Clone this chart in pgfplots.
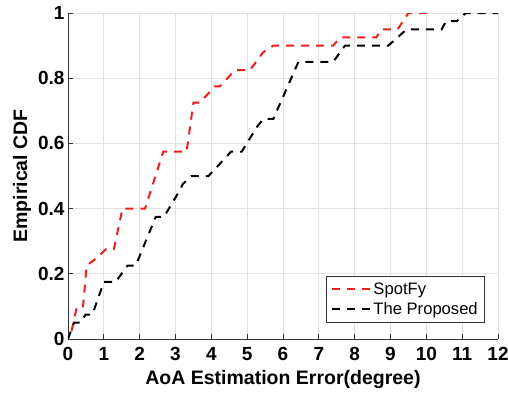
\documentclass[border=0pt]{standalone}
\usepackage{fontspec}
\setmainfont{Liberation Sans}
\usepackage{pgfplots}
\pgfplotsset{compat=1.18}
\definecolor{myred}{RGB}{242,30,30}
\definecolor{mygrid}{RGB}{225,225,225}
\definecolor{axcol}{RGB}{50,50,50}
\begin{document}
\begin{tikzpicture}
\begin{axis}[
  name=ax,
  scale only axis,
  width=430pt, height=326pt,
  xmin=0, xmax=12, ymin=0, ymax=1,
  xtick={0,1,...,12},
  xticklabels={0,1,2,3,4,5,6,7,8,9,10,11,12},
  ytick={0,0.2,0.4,0.6,0.8,1},
  yticklabels={0,0.2,0.4,0.6,0.8,1},
  axis x line*=bottom, axis y line*=left,
  axis line style={axcol, line width=0.9pt, -},
  tick style={axcol, line width=0.9pt},
  tick align=inside,
  major tick length=5pt,
  grid=major,
  major grid style={mygrid, line width=0.9pt},
  ticklabel style={font=\fontsize{19}{21}\selectfont\bfseries, text=black},
  xticklabel style={yshift=-5pt},
  xlabel={AoA Estimation Error(degree)},
  ylabel={Empirical CDF},
  label style={font=\fontsize{19.5}{22}\selectfont\bfseries},
  xlabel style={yshift=-2pt},
  legend style={at={(0.97,0.049)}, anchor=south east, draw=axcol, line width=0.7pt,
    font=\fontsize{16.6}{18}\selectfont, inner xsep=5pt, inner ysep=4.5pt, row sep=3pt},
  legend cell align=left,
  legend image code/.code={\draw[#1] (0pt,0pt) -- (38pt,0pt);},
]
\addplot[myred, line width=2pt, dash pattern=on 8pt off 7pt] coordinates {
(0.1,0.025) (0.25,0.1) (0.42,0.1) (0.52,0.225) (0.82,0.25) (1.05,0.275) (1.28,0.275)
(1.52,0.4) (2.15,0.4) (2.66,0.575) (3.31,0.575) (3.5,0.725) (3.68,0.725)
(4.1,0.775) (4.24,0.775) (4.66,0.825) (5.08,0.825) (5.45,0.88) (5.73,0.9)
(7.4,0.9) (7.6,0.925) (8.6,0.925) (8.75,0.95) (9.2,0.95) (9.5,1) (10,1)
};
\addlegendentry{SpotFy}
\addplot[black, line width=2pt, dash pattern=on 8pt off 7pt] coordinates {
(0,0) (0.17,0.05) (0.35,0.05) (0.49,0.075) (0.68,0.075) (1.0,0.175) (1.33,0.175)
(1.66,0.225) (1.89,0.225) (2.45,0.375) (2.68,0.375) (3.14,0.46) (3.2,0.475)
(3.45,0.5) (3.92,0.5) (4.43,0.56) (4.55,0.575) (4.85,0.575) (5.27,0.65)
(5.45,0.675) (5.73,0.675) (6.33,0.825) (6.43,0.85) (7.4,0.85) (7.73,0.9)
(8.94,0.9) (9.45,0.95) (10.43,0.95) (10.55,0.975) (10.85,0.975) (11.1,1) (12,1)
};
\addlegendentry{The Proposed}
\end{axis}
\pgfresetboundingbox
\path ([shift={(-68pt,-61pt)}]ax.south west) rectangle ([shift={(10pt,13pt)}]ax.north east);
\end{tikzpicture}
\end{document}
